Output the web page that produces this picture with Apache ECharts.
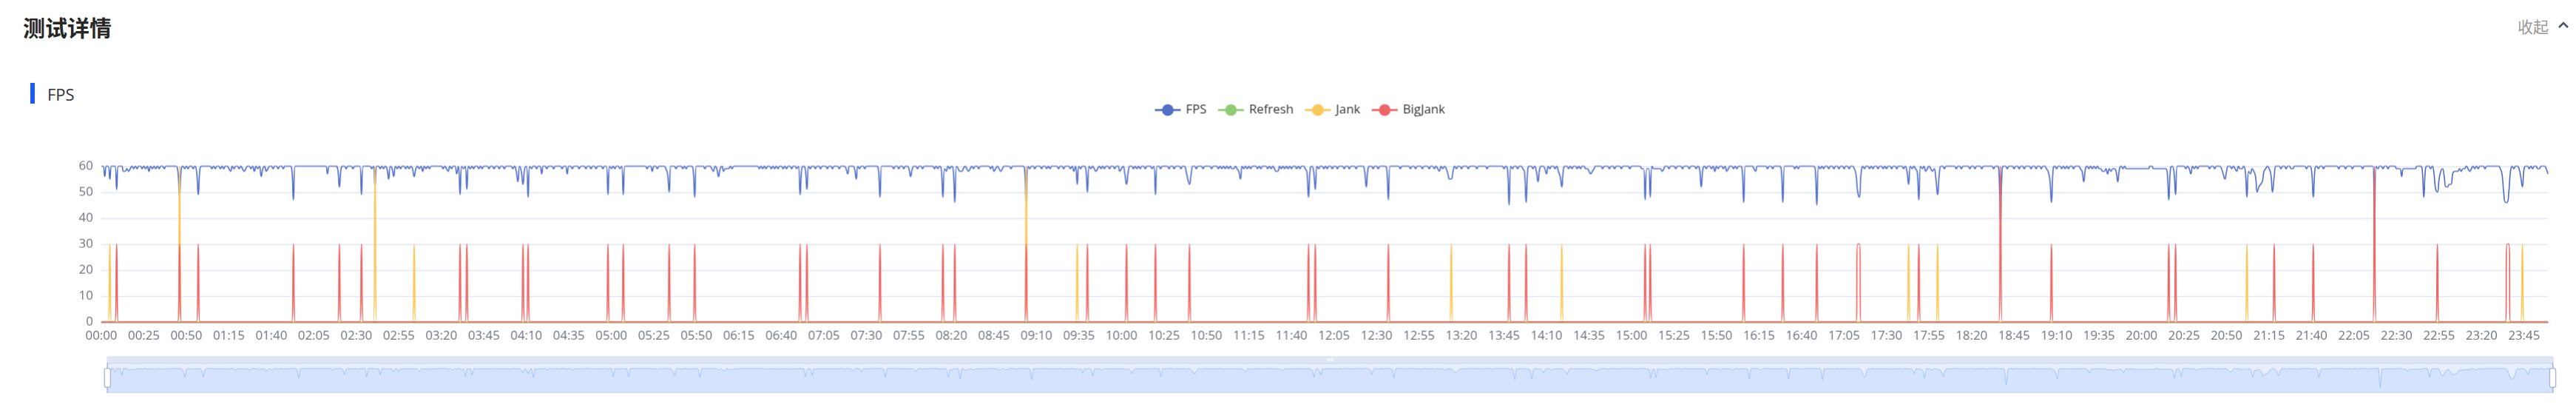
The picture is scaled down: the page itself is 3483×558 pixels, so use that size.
<!DOCTYPE html>
<html><head><meta charset="utf-8">
<script src="https://cdn.jsdelivr.net/npm/echarts@6/dist/echarts.min.js"></script>
<style>
html,body{margin:0;padding:0;background:#fff;width:3483px;height:558px;overflow:hidden;font-family:"Noto Sans CJK SC",sans-serif}
#title{position:absolute;left:31px;top:14px;font-size:30px;font-weight:bold;color:#262626;line-height:44px;white-space:nowrap}
#collapse{position:absolute;left:3404px;top:20px;font-size:21px;color:#999;line-height:30px;white-space:nowrap}
#caret{position:absolute;left:3458px;top:28px}
#bar{position:absolute;left:41px;top:112px;width:6px;height:28px;background:#1559ff}
#sub{position:absolute;left:64px;top:111px;font-size:22px;color:#333;line-height:32px;font-family:"Open Sans","Noto Sans CJK SC",sans-serif}
#chart{position:absolute;left:0;top:0;width:2487.857px;height:398.571px;zoom:1.4}
</style></head>
<body>
<div id="title">测试详情</div>
<div id="collapse">收起</div>
<svg id="caret" width="16" height="12" viewBox="0 0 16 12"><polyline points="2,9 8,3 14,9" fill="none" stroke="#4a5068" stroke-width="2.6"/></svg>
<div id="bar"></div>
<div id="sub">FPS</div>
<div id="chart"></div>
<script>
const seriesNames = ['FPS', 'Refresh', 'Jank', 'BigJank'];
const yTicks = [0, 10, 20, 30, 40, 50, 60];
const fpsValues = [
60,60,56,60,60,55,60,60,60,51,60,60,60,58,58,59,58,59,60,59,60,59,60,60,59,60,59,60,58,60,59,60,59,60,59,60,60,59,60,60,60,60,60,60,60,58,48,59,60,59,60,59,60,60,59,60,58,49,59,60,
60,60,60,60,60,59,60,59,60,60,59,60,59,60,60,59,58,60,59,60,60,59,60,59,58,59,60,60,59,60,58,60,59,60,56,59,60,58,59,60,60,59,60,60,59,60,60,59,60,60,60,60,59,47,60,60,60,60,60,60,
60,60,60,60,60,60,60,60,60,60,60,60,60,57,60,60,60,60,60,59,52,59,60,60,59,60,60,60,59,60,60,60,60,49,60,60,60,60,60,59,60,52,60,60,59,60,59,60,59,55,60,59,56,60,59,60,59,60,60,59,
60,59,60,59,56,59,60,59,60,58,60,59,60,59,60,60,60,60,60,60,60,59,60,59,58,60,59,60,60,57,60,49,60,59,60,51,60,59,60,59,60,60,59,60,59,60,60,60,59,60,60,59,60,60,59,60,60,59,60,60,
60,60,59,60,58,54,60,58,53,59,60,48,60,59,60,60,59,60,60,57,60,60,59,60,60,60,59,60,60,60,60,59,60,60,57,60,60,59,60,60,60,59,60,60,60,59,60,60,59,60,60,59,60,60,60,59,60,60,49,60,
59,60,59,60,60,59,60,49,60,60,60,60,60,60,60,60,60,60,60,60,60,59,60,60,58,60,60,59,60,60,60,60,59,57,50,60,60,60,59,60,60,60,59,60,59,60,60,60,59,48,60,60,60,60,60,59,60,60,60,59,
58,60,59,56,59,60,58,59,59,59,60,59,60,60,60,60,60,60,60,60,60,60,60,60,60,60,60,59,60,59,60,59,60,60,59,60,59,60,59,60,60,59,60,59,60,60,59,60,60,59,60,49,59,60,59,51,60,59,60,60,
59,60,60,59,60,60,60,59,60,60,59,60,60,60,59,60,60,60,59,57,60,60,60,59,55,60,59,60,60,59,60,60,60,60,60,60,60,59,48,60,60,60,60,60,60,60,59,60,60,59,60,60,59,60,60,59,56,59,60,60,
59,60,60,59,60,60,60,60,60,60,59,60,59,60,59,48,59,58,60,59,60,59,46,60,59,58,58,59,60,59,58,59,60,59,60,60,59,60,60,60,60,60,60,59,60,58,59,60,59,58,59,60,60,60,60,59,60,60,60,60,
60,60,60,59,45,60,59,60,60,59,60,60,60,59,60,60,59,60,59,60,60,60,60,59,60,60,59,60,60,60,59,60,58,60,53,60,59,60,60,59,50,60,59,60,59,58,59,60,59,60,59,60,60,59,60,60,59,60,60,58,
59,60,57,53,58,60,60,59,60,59,60,59,60,60,59,60,60,60,59,60,49,60,60,59,60,60,60,60,59,60,60,59,60,60,60,59,60,60,58,55,53,57,60,60,59,60,60,60,59,60,60,60,60,59,60,60,60,59,60,59,
60,59,60,59,60,59,59,60,59,58,55,60,59,60,59,60,59,60,60,60,59,60,59,60,60,60,59,60,59,60,59,58,58,60,59,60,59,60,59,60,59,60,60,59,60,59,60,60,59,58,48,59,60,58,51,60,59,60,60,59,
60,59,60,60,59,60,60,59,60,60,60,59,60,60,59,60,60,60,59,60,60,60,60,58,52,59,60,60,59,60,60,59,60,60,60,60,59,47,60,60,60,60,60,60,59,60,60,60,60,60,59,60,60,59,60,60,60,59,60,60,
60,59,60,60,59,60,59,58,60,59,60,59,57,55,55,58,60,59,60,60,59,60,60,60,59,60,60,60,60,59,60,60,60,60,60,59,60,60,60,60,60,60,60,60,60,59,60,59,45,60,59,60,60,59,60,60,59,58,46,59,
60,60,59,60,58,54,59,60,60,59,57,60,59,60,60,59,60,58,56,52,59,60,60,59,60,59,60,60,59,60,59,60,60,59,59,58,57,58,59,60,60,60,60,59,60,60,60,59,60,60,59,60,60,60,59,60,60,60,60,59,
60,60,60,60,60,60,59,59,47,59,59,48,60,59,59,59,59,59,58,59,60,60,59,60,60,60,59,60,60,60,59,60,60,60,59,60,60,60,59,60,59,52,59,60,59,60,60,59,60,58,60,59,60,60,59,60,58,59,60,60,
59,60,59,60,60,59,46,60,60,60,60,60,59,58,60,60,60,60,60,60,59,60,60,59,60,60,60,60,59,46,60,60,60,60,60,60,59,60,59,60,60,60,60,60,60,60,60,60,59,45,60,59,60,59,60,60,59,60,60,59,
60,60,59,60,60,59,60,60,59,60,60,59,57,50,48,57,60,59,60,60,59,60,59,60,60,59,60,60,59,60,59,60,60,59,60,60,59,60,60,60,59,60,58,53,60,59,60,59,58,47,60,59,60,58,59,60,59,58,59,55,
49,57,60,60,59,60,60,60,60,60,60,59,60,60,59,60,60,60,60,59,60,60,59,60,60,60,59,60,60,60,60,60,60,59,60,60,59,38,59,60,60,59,60,60,60,59,60,60,59,60,60,59,60,60,60,59,60,60,59,60,
60,59,60,60,59,58,55,46,59,60,59,60,60,59,60,59,60,59,60,60,59,60,60,60,59,58,54,59,60,59,60,59,60,59,60,59,59,58,58,59,57,59,58,59,59,58,54,59,60,59,60,59,59,59,59,59,59,59,59,59,
59,59,59,59,59,60,60,59,59,59,59,59,59,59,59,58,47,59,60,58,49,60,60,60,60,60,59,60,59,57,60,59,60,59,60,60,60,60,60,60,59,60,60,59,60,60,60,59,57,55,58,60,60,59,60,59,58,60,59,59,
60,58,48,58,57,59,58,56,50,52,53,54,58,59,60,59,57,50,56,60,60,60,59,60,60,59,60,60,59,59,60,60,60,60,60,60,60,59,60,60,58,48,59,60,59,60,60,59,60,60,60,60,60,60,60,60,59,60,60,60,
59,60,60,60,59,60,60,60,60,60,59,60,60,60,60,60,60,35,60,59,60,60,59,60,60,59,60,60,60,60,59,59,59,56,59,59,59,59,59,59,59,59,60,60,60,59,48,59,60,60,59,60,57,51,50,55,58,59,56,52,
52,53,53,57,58,58,58,59,58,59,59,60,59,58,59,60,59,60,59,60,60,60,59,60,60,60,60,60,60,60,60,59,57,50,46,46,50,58,60,59,60,60,59,56,52,59,60,60,59,60,59,60,60,59,59,60,60,60,59,57
];
// [index, value] of every non-zero point; all other points are 0
const refreshPoints = [];
const jankPoints = [[5,30],[46,60],[161,60],[184,30],[544,60],[574,30],[794,30],[859,30],[1063,30],[1080,30],[1262,30],[1424,30]];
const bigJankPoints = [[9,30],[46,30],[57,30],[113,30],[140,30],[153,30],[211,30],[215,30],[248,30],[251,30],[298,30],[307,30],[334,30],[349,30],[411,30],[415,30],[458,30],[495,30],[502,30],[544,30],[580,30],[603,30],[620,30],[640,30],[710,30],[714,30],[757,30],[828,30],[838,30],[908,30],[911,30],[966,30],[989,30],[1009,30],[1033,30],[1034,30],[1069,30],[1117,60],[1147,30],[1216,30],[1220,30],[1278,30],[1301,30],[1337,60],[1374,30],[1415,30],[1416,30]];

const N = fpsValues.length;
const categories = [];
for (let i = 0; i < N; i++) {
  const m = Math.floor(i / 60), s = i % 60;
  categories.push(String(m).padStart(2, '0') + ':' + String(s).padStart(2, '0'));
}
function expand(points) {
  const arr = new Array(N).fill(0);
  points.forEach(p => { arr[p[0]] = p[1]; });
  return arr;
}
const refreshValues = expand(refreshPoints);
const jankValues = expand(jankPoints);
const bigJankValues = expand(bigJankPoints);

const chart = echarts.init(document.getElementById('chart'), null, {renderer: 'canvas', devicePixelRatio: 1.4, width: 2487.857, height: 398.571});
const font = '"Open Sans","Noto Sans CJK SC",sans-serif';
function lineSeries(name, data) {
  return {
    name: name, type: 'line', data: data, smooth: true, symbol: 'circle', showSymbol: false,
    lineStyle: {width: 1.2}, animation: false
  };
}
chart.setOption({
  animation: false,
  color: ['#5470c6', '#91cc75', '#fac858', '#ee6666'],
  textStyle: {fontFamily: font},
  legend: {
    data: seriesNames, left: 1109, top: 95, itemWidth: 25, itemHeight: 14, itemGap: 10,
    textStyle: {color: '#333', fontSize: 12, fontFamily: font}
  },
  grid: {left: 97.86, right: 27.86, top: 160, bottom: 88.57, containLabel: false},
  xAxis: {
    type: 'category', boundaryGap: false, data: categories,
    axisLine: {lineStyle: {color: '#6E7079'}},
    axisTick: {show: false},
    axisLabel: {interval: 24, color: '#6E7079', fontSize: 12, margin: 8, fontFamily: font},
    splitLine: {show: false}
  },
  yAxis: {
    type: 'value', min: yTicks[0], max: yTicks[yTicks.length - 1], interval: 10,
    axisLine: {show: false}, axisTick: {show: false},
    axisLabel: {color: '#6E7079', fontSize: 12, margin: 8, fontFamily: font},
    splitLine: {lineStyle: {color: '#E0E6F1'}}
  },
  dataZoom: [{
    type: 'slider', start: 0, end: 100, left: 100, right: 25, top: 343, height: 29,
    backgroundColor: 'rgba(47,69,84,0)', borderColor: '#d2dbee', borderRadius: 3,
    fillerColor: 'rgba(135,175,274,0.2)',
    dataBackground: {lineStyle: {color: '#d2dbee', width: 0.5}, areaStyle: {color: '#d2dbee', opacity: 0.2}},
    selectedDataBackground: {lineStyle: {color: '#8fb0f7', width: 0.5}, areaStyle: {color: '#8fb0f7', opacity: 0.2}},
    handleIcon: 'path://M-9.35,34.56V42m0-40V9.5m-2,0h4a2,2,0,0,1,2,2v21a2,2,0,0,1-2,2h-4a2,2,0,0,1-2-2v-21A2,2,0,0,1-11.35,9.5Z',
    handleSize: '100%',
    handleStyle: {color: '#fff', borderColor: '#ACB8D1'},
    moveHandleSize: 7,
    moveHandleStyle: {color: '#D2DBEE', opacity: 0.7},
    showDetail: false, showDataShadow: true,
    textStyle: {color: '#6E7079'}
  }],
  series: [
    lineSeries('FPS', fpsValues),
    lineSeries('Refresh', refreshValues),
    lineSeries('Jank', jankValues),
    lineSeries('BigJank', bigJankValues)
  ]
});
</script>
</body></html>
